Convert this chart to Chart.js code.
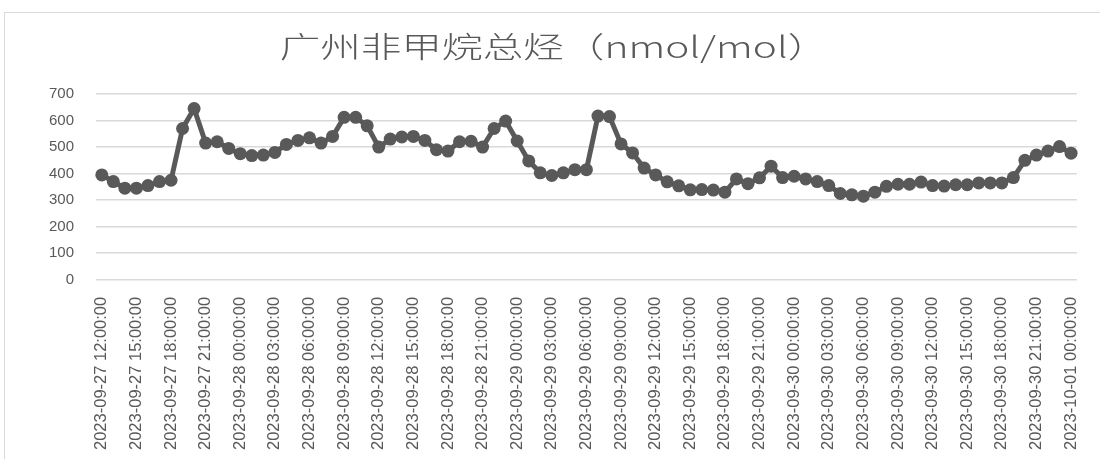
<!DOCTYPE html>
<html>
<head>
<meta charset="utf-8">
<script src="https://cdn.jsdelivr.net/npm/chart.js@4"></script>
<style>
  html, body { margin: 0; padding: 0; background: #fff; }
  #wrap { position: relative; width: 1100px; height: 459px; overflow: hidden; }
  #frame { position: absolute; left: 4px; top: 12px; width: 1200px; height: 600px;
           border-left: 1.5px solid #d9d9d9; border-top: 1.5px solid #d9d9d9; }
  #chart { position: absolute; left: 0; top: 0; }
</style>
</head>
<body>
<div id="wrap">
  <div id="frame"></div>
  <canvas id="chart" width="1100" height="459"></canvas>
</div>
<script>
// hourly readings, 2023-09-27 12:00 .. 2023-10-01 00:00
const startTime = Date.UTC(2023, 8, 27, 12);
const hourCount = 85;
const timeLabels = [];
for (let i = 0; i < hourCount; i++) {
    const d = new Date(startTime + i * 3600 * 1000);
    timeLabels.push(d.toISOString().slice(0, 19).replace('T', ' '));
}

const nmhcValues = [
    395, 370, 345, 345, 355, 370, 375, 570, 645, 515,
    520, 495, 475, 468, 470, 480, 510, 525, 535, 515,
    540, 612, 612, 580, 500, 530, 538, 540, 525, 490,
    485, 520, 522, 500, 570, 598, 523, 448, 403, 393,
    403, 415, 415, 617, 615, 512, 478, 421, 395, 369,
    354, 339, 340, 338, 330, 380, 362, 384, 428, 385,
    390, 380, 370, 355, 325, 320, 315, 330, 352, 360,
    360, 368, 355, 353, 358, 358, 365, 365, 365, 385,
    450, 470, 485, 502, 477
];

const yTicks = [0, 100, 200, 300, 400, 500, 600, 700];
const chartTitle = '广州非甲烷总烃（nmol/mol）';

const textGray = '#595959';

// the source picture is stretched sideways, so the title is drawn wider than normal
const wideTitle = {
    id: 'wideTitle',
    afterDraw(chart) {
        const c = chart.ctx;
        c.save();
        c.font = '300 29px "Noto Sans CJK SC"';
        c.fillStyle = textGray;
        c.textAlign = 'center';
        c.textBaseline = 'middle';
        c.translate(chart.width / 2 + 4, 47);
        c.scale(1.4, 1);
        c.fillText(chartTitle, 0, 0);
        c.restore();
    }
};

const ctx = document.getElementById('chart').getContext('2d');
new Chart(ctx, {
    type: 'line',
    data: {
        labels: timeLabels,
        datasets: [{
            label: chartTitle,
            data: nmhcValues,
            borderColor: '#595959',
            backgroundColor: '#595959',
            borderWidth: 5,
            pointRadius: 6.5,
            pointBorderWidth: 0,
            pointBackgroundColor: '#595959',
            tension: 0
        }]
    },
    plugins: [wideTitle],
    options: {
        responsive: false,
        animation: false,
        layout: { padding: { left: 27, right: 23, top: 94, bottom: 0 } },
        plugins: {
            legend: { display: false },
            tooltip: { enabled: false },
            title: { display: false }
        },
        scales: {
            x: {
                offset: true,
                grid: { display: false },
                border: { display: false },
                ticks: {
                    autoSkip: false,
                    maxRotation: 90,
                    minRotation: 90,
                    padding: 9,
                    color: textGray,
                    font: { family: '"Liberation Sans"', size: 16.5 },
                    callback: function (val, index) {
                        return index % 3 === 0 ? this.getLabelForValue(val) : null;
                    }
                }
            },
            y: {
                min: 0,
                max: 700,
                afterBuildTicks: function (axis) {
                    axis.ticks = yTicks.map(v => ({ value: v }));
                },
                grid: { color: '#d9d9d9', lineWidth: 1.5, drawTicks: false },
                border: { display: false },
                ticks: {
                    padding: 22,
                    color: textGray,
                    font: { family: '"Liberation Sans"', size: 15 }
                }
            }
        }
    }
});
</script>
</body>
</html>
